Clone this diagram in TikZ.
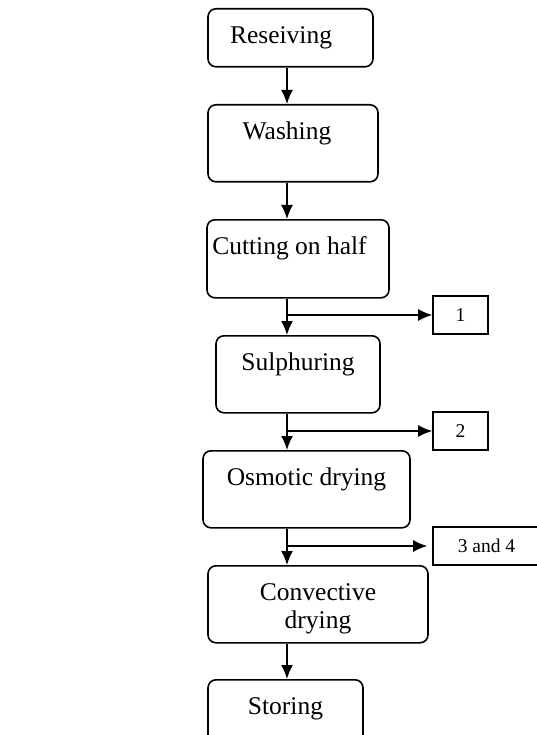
\documentclass[tikz,border=0pt]{standalone}
\usepackage{fontspec}
\setmainfont{Liberation Serif}
\usetikzlibrary{arrows.meta}

\tikzset{
	stage/.style={draw, rounded corners=8pt, inner sep=0pt, anchor=north, text height=35pt, text depth=#1},
	outbox/.style={draw, inner sep=0pt, minimum width=55pt, minimum height=38pt, font=\fontsize{19.5}{22}\selectfont},
}

\begin{document}
\begin{tikzpicture}[x=1pt, y=-1pt, line width=1.6pt, >={Latex[length=14pt,width=12pt]}, font=\fontsize{25.5}{28}\selectfont]
\useasboundingbox (0,0) rectangle (537,735);
\clip (0,0) rectangle (537,735);

\coordinate (spine) at (287,0);

\node[stage=23pt, minimum width=165pt] (receive) at (290.5,8) {\hspace*{-19pt}Reseiving};
\node[stage=42pt, minimum width=170pt] (wash) at (293,104) {\hspace*{-12pt}Washing};
\node[stage=43pt, minimum width=182pt] (cut) at (298,219) {\hspace*{-17pt}Cutting on half};
\node[stage=42pt, minimum width=164pt] (sulph) at (298,335) {Sulphuring};
\node[stage=42pt, minimum width=207pt] (osmo) at (306.5,450) {Osmotic drying};
\node[stage=14pt, text height=63pt, minimum width=220pt, align=center] (conv) at (318,565) {Convective\\drying};
\node[stage=45pt, minimum width=155pt] (store) at (285.5,679) {Storing};

\node[outbox] (one) at (460.5,315) {1};
\node[outbox] (two) at (460.5,431) {2};
\node[outbox, minimum width=107pt] (three) at (486.5,546) {3 and 4};

% main line
\draw[->] (receive.south -| spine) -- (wash.north -| spine);
\draw[->] (wash.south -| spine) -- (cut.north -| spine);
\draw[->] (cut.south -| spine) -- (sulph.north -| spine);
\draw[->] (sulph.south -| spine) -- (osmo.north -| spine);
\draw[->] (osmo.south -| spine) -- (conv.north -| spine);
\draw[->] (conv.south -| spine) -- (store.north -| spine);

% side samples
\draw[->] (one.west -| spine) -- (one.west);
\draw[->] (two.west -| spine) -- (two.west);
\draw[->, shorten >=5pt] (three.west -| spine) -- (three.west);
\end{tikzpicture}
\end{document}
